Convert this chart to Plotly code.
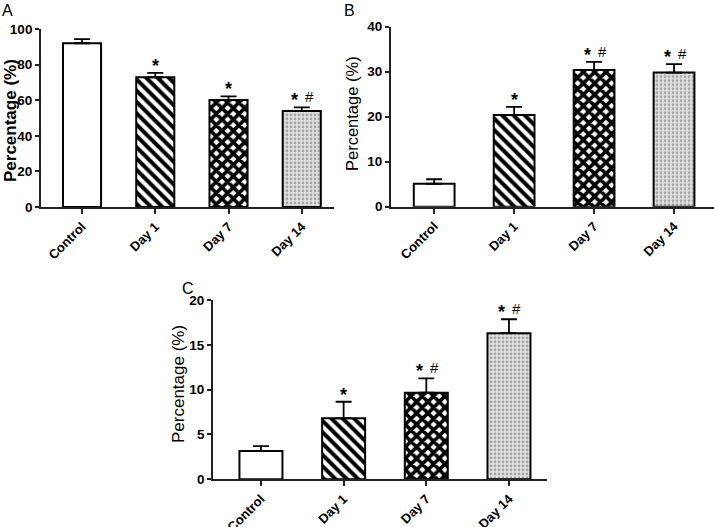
import plotly.graph_objects as go

categories = ["Control", "Day 1", "Day 7", "Day 14"]

a_values = [92.0, 72.9, 60.1, 54.0]
a_errors = [2.3, 2.4, 2.1, 2.0]
a_marks = ["", "*", "*", "* #"]

b_values = [5.1, 20.4, 30.4, 29.8]
b_errors = [1.0, 1.8, 1.8, 1.9]
b_marks = ["", "*", "* #", "* #"]

c_values = [3.15, 6.8, 9.66, 16.3]
c_errors = [0.55, 1.85, 1.6, 1.55]
c_marks = ["", "*", "* #", "* #"]

a_ticks = [0, 20, 40, 60, 80, 100]
b_ticks = [0, 10, 20, 30, 40]
c_ticks = [0, 5, 10, 15, 20]

W, H = 714, 527
FONT = "Liberation Sans, Arial, sans-serif"

patterns = [
    None,
    dict(shape="\\", fgcolor="black", bgcolor="white", size=8, solidity=0.5, fgopacity=1),
    dict(shape="x", fgcolor="black", bgcolor="white", size=8, solidity=0.7, fgopacity=1),
    dict(shape=".", fgcolor="#a6a6a6", bgcolor="#e2e2e2", size=4, solidity=0.4, fgopacity=1),
]
fills = ["white", "white", "white", "#e2e2e2"]

fig = go.Figure()

panels = [
    dict(vals=a_values, errs=a_errors, marks=a_marks, ticks=a_ticks, xa="x", ya="y",
         xdom=[41 / W, 334 / W], ydom=[1 - 207 / H, 1 - 29 / H], yr=[0, 100],
         xr=[-0.56, 3.44], bw=0.52, title_xy=(10 / W, 1 - 121 / H), title_size=17,
         label="A", lab_xy=(0 / W, 1 - 0 / H), bold_title=True),
    dict(vals=b_values, errs=b_errors, marks=b_marks, ticks=b_ticks, xa="x2", ya="y2",
         xdom=[391 / W, 1.0], ydom=[1 - 206.7 / H, 1 - 26.7 / H], yr=[0, 40],
         xr=[-0.54, 3.5], bw=0.51, title_xy=(352 / W, 1 - 114 / H), title_size=16.5,
         label="B", lab_xy=(342 / W, 1 - 0 / H), bold_title=False),
    dict(vals=c_values, errs=c_errors, marks=c_marks, ticks=c_ticks, xa="x3", ya="y3",
         xdom=[213 / W, 547 / W], ydom=[1 - 479.3 / H, 1 - 300 / H], yr=[0, 20],
         xr=[-0.58, 3.46], bw=0.52, title_xy=(178 / W, 1 - 384 / H), title_size=17,
         label="C", lab_xy=(180 / W, 1 - 278 / H), bold_title=False),
]

annotations = []
for i, p in enumerate(panels):
    for j, cat in enumerate(categories):
        marker = dict(color=fills[j], line=dict(color="black", width=2))
        if patterns[j] is not None:
            marker["pattern"] = patterns[j]
        fig.add_trace(go.Bar(
            x=[cat], y=[p["vals"][j]], xaxis=p["xa"], yaxis=p["ya"], width=p["bw"],
            marker=marker,
            error_y=dict(type="data", symmetric=False, array=[p["errs"][j]], arrayminus=[0],
                         color="black", thickness=1.8, width=8),
            showlegend=False, hoverinfo="skip",
        ))
        parts = p["marks"][j].split()
        top = p["vals"][j] + p["errs"][j]
        for k, sym in enumerate(parts):
            xs = 0 if len(parts) == 1 else (-7 if k == 0 else 8)
            is_star = sym == "*"
            annotations.append(dict(
                x=j, y=top, xref=p["xa"], yref=p["ya"], xshift=xs,
                yshift=-5 if is_star else 0,
                text=sym, showarrow=False, yanchor="bottom",
                font=dict(family=FONT, size=18 if is_star else 15, color="black",
                          weight="bold" if is_star else "normal"),
            ))
    sfx = "" if i == 0 else str(i + 1)
    fig.update_layout(**{
        "xaxis" + sfx: dict(domain=p["xdom"], anchor="y" + sfx, range=p["xr"], type="category",
                            categoryorder="array", categoryarray=categories, automargin=False,
                            showline=True, linecolor="#222", linewidth=1.8,
                            ticks="outside", ticklen=5, tickwidth=1.5, tickcolor="#222",
                            tickangle=-45, showgrid=False, zeroline=False,
                            tickfont=dict(family=FONT, size=13, color="black", weight="bold")),
        "yaxis" + sfx: dict(domain=p["ydom"], anchor="x" + sfx, range=p["yr"], automargin=False,
                            tickvals=p["ticks"], showline=True, linecolor="#222", linewidth=1.8,
                            ticks="outside", ticklen=4, tickwidth=1.5, tickcolor="#222",
                            showgrid=False, zeroline=False,
                            tickfont=dict(family=FONT, size=13.5, color="black", weight="bold")),
    })
    annotations.append(dict(
        x=p["title_xy"][0], y=p["title_xy"][1], xref="paper", yref="paper",
        xanchor="center", yanchor="middle",
        text="Percentage (%)", textangle=-90, showarrow=False,
        font=dict(family=FONT, size=p["title_size"], color="black",
                  weight="bold" if p["bold_title"] else "normal"),
    ))
    annotations.append(dict(
        x=p["lab_xy"][0], y=p["lab_xy"][1], xref="paper", yref="paper", text=p["label"],
        showarrow=False, xanchor="left", yanchor="top",
        font=dict(family=FONT, size=16, color="black"),
    ))

fig.update_layout(
    width=W, height=H, margin=dict(l=0, r=0, t=0, b=0),
    paper_bgcolor="white", plot_bgcolor="white",
    annotations=annotations, barmode="overlay",
)

fig.write_html("out.html", config={"displayModeBar": False},
               post_script="document.body.style.margin='0';")
